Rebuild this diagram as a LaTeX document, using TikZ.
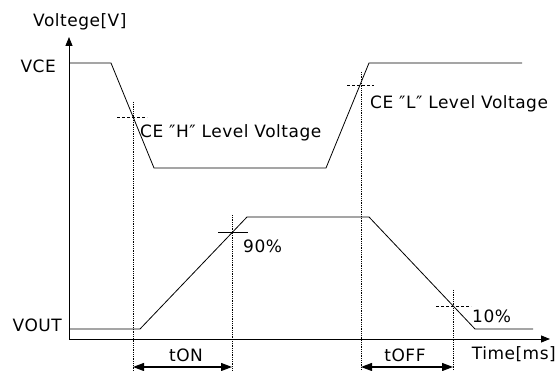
\documentclass[tikz,border=0pt]{standalone}
\usepackage{fontspec}
\setmainfont[LetterSpace=3]{DejaVu Sans}
\usetikzlibrary{arrows.meta}
\begin{document}
\begin{tikzpicture}[x=1pt,y=-1pt,font=\fontsize{17}{19}\selectfont]
  \tikzstyle{wave}=[line width=0.8pt]
  \tikzstyle{guide}=[densely dotted,line width=0.8pt]
  \tikzstyle{tick}=[densely dashed,line width=0.8pt]
  \tikzstyle{axis}=[line width=0.8pt,-{Triangle[length=9pt,width=7pt]}]
  \tikzstyle{span}=[line width=1.2pt,{Triangle[length=11pt,width=8pt]}-{Triangle[length=11pt,width=8pt]}]
  \tikzstyle{every node}=[inner sep=0pt]
  \useasboundingbox (0,0) rectangle (558,371);
  % axes
  \coordinate (o) at (69,339);
  \coordinate (ytip) at (69,37);
  \coordinate (xtip) at (550,339);
  \draw[axis] (o) -- (ytip);
  \draw[axis] (o) -- (xtip);
  \node[anchor=base west] (ylabel) at (33,27) {Voltege[V]};
  \node[anchor=base east] (vce) at (56,73) {VCE};
  \node[anchor=base east] (vout) at (62,332) {VOUT};
  \node[anchor=base east] (xlabel) at (556,360) {Time[ms]};
  % VCE waveform
  \coordinate (c1) at (69,63);
  \coordinate (c2) at (111,63);
  \coordinate (c3) at (154,168);
  \coordinate (c4) at (326,168);
  \coordinate (c5) at (369,63);
  \coordinate (c6) at (522,63);
  \draw[wave] (c1) -- (c2) -- (c3) -- (c4) -- (c5) -- (c6);
  % VOUT waveform
  \coordinate (v1) at (69,329);
  \coordinate (v2) at (140,329);
  \coordinate (v3) at (247,217);
  \coordinate (v4) at (369,217);
  \coordinate (v5) at (475,329);
  \coordinate (v6) at (533,329);
  \draw[wave] (v1) -- (v2) -- (v3) -- (v4) -- (v5) -- (v6);
  % crossing marks
  \coordinate (h) at (133,117);
  \coordinate (l) at (361,85);
  \coordinate (p90) at (232,232);
  \coordinate (p10) at (453,306);
  \draw[tick] ([xshift=-16pt]h) -- ([xshift=14pt]h);
  \draw[tick] ([xshift=-14pt]l) -- ([xshift=13pt]l);
  \draw[wave] ([xshift=-14pt]p90) -- ([xshift=16pt]p90);
  \draw[tick] ([xshift=-17pt]p10) -- ([xshift=18pt]p10);
  \node[anchor=base west] (hlab) at (140,138) {CE ″H″ Level Voltage};
  \node[anchor=base west] (llab) at (370,109) {CE ″L″ Level Voltage};
  \node[anchor=base west] (lab90) at (243,253) {90\%};
  \node[anchor=base west] (lab10) at (472,323) {10\%};
  % guide lines
  \coordinate (gh) at (133,371);
  \coordinate (gl) at (361,371);
  \coordinate (g90) at (232,371);
  \coordinate (g10) at (453,371);
  \draw[guide] ([yshift=15pt]h) -- (gh);
  \draw[guide] ([yshift=13pt]l) -- (gl);
  \draw[guide] ([yshift=17pt]p90) -- (g90);
  \draw[guide] ([yshift=16pt]p10) -- (g10);
  % on / off times
  \coordinate (on1) at (133,367);
  \coordinate (on2) at (232,367);
  \coordinate (off1) at (361,367);
  \coordinate (off2) at (453,367);
  \draw[span] (on1) -- (on2);
  \draw[span] (off1) -- (off2);
  \node[anchor=base] (ton) at (186,362) {tON};
  \node[anchor=base] (toff) at (405,362) {tOFF};
\end{tikzpicture}
\end{document}
